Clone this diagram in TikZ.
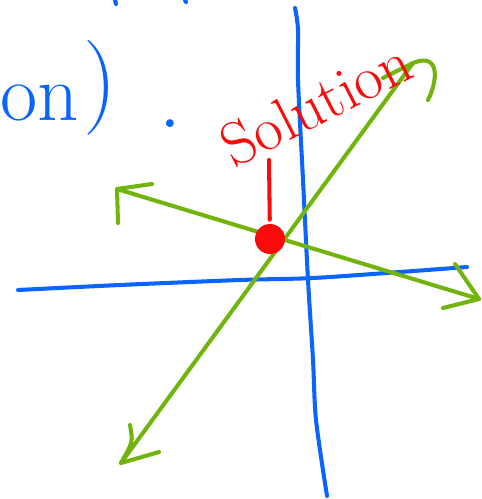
\documentclass[tikz,border=0pt]{standalone}
\usepackage{tikz}
\definecolor{PenBlue}{RGB}{10, 100, 255}
\definecolor{PenGreen}{RGB}{112, 180, 12}
\definecolor{PenRed}{RGB}{250, 10, 10}

\begin{document}
\begin{tikzpicture}[x=0.02cm, y=-0.02cm,
    pen/.style={line width=2.3pt, line cap=round, line join=round},
    dot/.style={circle, fill=PenRed, inner sep=0pt, minimum size=0.6cm}]
    \fill[white] (0,0) rectangle (482,499);
    \useasboundingbox (0,0) rectangle (482,499);
    % writing on the left
    \node[PenBlue, anchor=base west, inner sep=0pt, font=\fontsize{46}{50}\selectfont] (onword) at (0,121) {on};
    \node[PenBlue, inner sep=0pt, font=\fontsize{54}{60}\selectfont] (paren) at (100,88) {)};
    \node[PenBlue, inner sep=0pt, font=\fontsize{54}{60}\selectfont] (stop) at (170,124) {.};
    \draw[pen, PenBlue] (115,0) -- (116,4);
    \draw[pen, PenBlue] (185,0) -- (186,2);
    % axes
    \draw[pen, PenBlue] plot[smooth] coordinates {(18,290) (120,285) (240,280) (313,278) (400,272) (467,267)};
    \draw[pen, PenBlue] plot[smooth] coordinates {(295,8) (298,30) (298,80) (303,180) (308,280) (313,360) (316,420) (327,496)};
    % the two lines
    \coordinate (ne) at (413,63);
    \coordinate (sw) at (121,463);
    \coordinate (nw) at (117,189);
    \coordinate (se) at (479,299);
    \draw[pen, PenGreen] (sw) -- (ne);
    \draw[pen, PenGreen] (nw) -- (se);
    \draw[pen, PenGreen] (383,78) -- (ne) .. controls (440,52) and (438,80) .. (428,100);
    \draw[pen, PenGreen] (130,425) .. controls (133,442) .. (sw) -- (159,452);
    \draw[pen, PenGreen] (152,184) -- (nw) -- (118,223);
    \draw[pen, PenGreen] (455,264) -- (se) -- (443,308);
    % solution point
    \node[dot] (sol) at (270,239) {};
    \node[PenRed, rotate=27, font=\fontsize{35}{40}\selectfont] (solword) at (316,104) {Solution};
    \coordinate (ltop) at (269,160);
    \draw[pen, PenRed, shorten <=0.08cm] (sol) -- (ltop);
\end{tikzpicture}
\end{document}
